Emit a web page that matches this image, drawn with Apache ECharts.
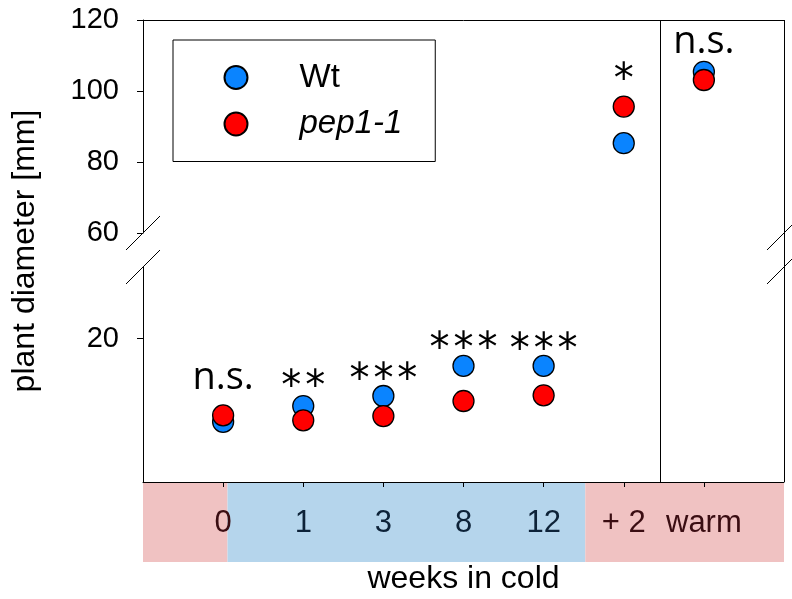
<!DOCTYPE html>
<html><head><meta charset="utf-8">
<script src="https://cdn.jsdelivr.net/npm/echarts@6/dist/echarts.min.js"></script>
<style>html,body{margin:0;padding:0;background:#fff}#c{width:792px;height:599px}</style>
</head><body><div id="c"></div>
<script>
// ---- data ----
const categories = ['0', '1', '3', '8', '12', '+ 2', 'warm'];
const labelGroup = ['warm', 'cold', 'cold', 'cold', 'cold', 'warm', 'warm'];
const wt  = [8.4, 10.6, 12.0, 16.2, 16.2, 85.3, 105.4];
const pep = [9.3, 8.6, 9.2, 11.3, 12.1, 95.6, 103.1];
const sigLabels = ['n.s.', '**', '***', '***', '***', '*', 'n.s.'];
const sigY = [14.5, 13.0, 14.0, 18.3, 18.2, 102.7, 113.8];
const upperTicks = [60, 80, 100, 120];
const lowerTicks = [20];
const bandEdges = [0, 1.055, 5.52, 8];
const bandKinds = ['warm', 'cold', 'warm'];
const dividerX = 6.45;
const lowerCount = 5; // first five categories use the lower (0-30) segment

// ---- layout ----
const L = 143, W = 641, T = 20, UH = 213, LT = 267, LH = 215, BH = 80;
const FONT = "'Liberation Sans', Arial, sans-serif";
const BLUE = '#0a84ff', RED = '#ff0000';
const bandColor = { warm: '#f0c2c2', cold: '#b5d5ec' };
const textColor = { warm: '#3a0d12', cold: '#0d2238' };

const xs = categories.map((c, i) => i + 1);
const pick = (arr, lower) => arr.map((v, i) => [xs[i], v]).filter((d, i) => lower ? i < lowerCount : i >= lowerCount);
const sigData = (lower) => sigY.map((v, i) => ({ value: [xs[i], v], name: sigLabels[i] })).filter((d, i) => lower ? i < lowerCount : i >= lowerCount);

const hiddenX = (g) => ({ gridIndex: g, type: 'value', min: 0, max: 8, show: false });
const hiddenY = (g) => ({ gridIndex: g, type: 'value', min: 0, max: 1, show: false });

const pointStyle = (c) => ({ color: c, borderColor: '#000', borderWidth: 1.3, opacity: 1 });
const sigLabel = {
  show: true, position: 'inside',
  formatter: (p) => p.name.indexOf('*') >= 0
    ? '{a|' + p.name.split('').join('\u200A') + '}'
    : '{n|' + p.name + '}',
  rich: {
    n: { fontFamily: "'Open Sans', sans-serif", fontSize: 38, color: '#000' },
    a: { fontFamily: "'DejaVu Sans', sans-serif", fontSize: 40, color: '#000' }
  }
};

const option = {
  animation: false,
  backgroundColor: '#fff',
  grid: [
    { left: L, top: T, width: W, height: LT + LH - T, outerBoundsMode: 'none' }, // frame
    { left: L, top: T, width: W, height: UH, outerBoundsMode: 'none' },          // upper
    { left: L, top: LT, width: W, height: LH, outerBoundsMode: 'none' },         // lower
    { left: L, top: LT + LH, width: W, height: BH, outerBoundsMode: 'none' }     // band
  ],
  xAxis: [
    hiddenX(0),
    { gridIndex: 1, type: 'value', min: 0, max: 8, position: 'top',
      axisLine: { show: true, lineStyle: { color: '#000', width: 1 } },
      axisTick: { show: false }, axisLabel: { show: false }, splitLine: { show: false } },
    { gridIndex: 2, type: 'value', min: 0, max: 8, position: 'bottom', z: 10,
      name: 'weeks in cold', nameLocation: 'middle', nameGap: 81,
      nameTextStyle: { fontFamily: FONT, fontSize: 32, color: '#000' },
      axisLine: { show: true, lineStyle: { color: '#000', width: 1 } },
      axisTick: { show: true, inside: false, length: 5, customValues: xs, lineStyle: { color: '#000' } },
      axisLabel: {
        show: true, customValues: xs, margin: 26,
        formatter: (v) => { const i = Math.round(v) - 1; return '{' + labelGroup[i] + '|' + categories[i] + '}'; },
        rich: {
          warm: { fontFamily: FONT, fontSize: 31, color: textColor.warm },
          cold: { fontFamily: FONT, fontSize: 31, color: textColor.cold }
        }
      },
      splitLine: { show: false } },
    hiddenX(3)
  ],
  yAxis: [
    { gridIndex: 0, type: 'value', min: 0, max: 1,
      name: 'plant diameter [mm]', nameLocation: 'middle', nameGap: 102, nameRotate: 90,
      nameTextStyle: { fontFamily: FONT, fontSize: 32, color: '#000' },
      axisLine: { show: false }, axisTick: { show: false }, axisLabel: { show: false }, splitLine: { show: false } },
    { gridIndex: 1, type: 'value', min: 60, max: 120, interval: 20,
      axisLine: { show: true, lineStyle: { color: '#000', width: 1 } },
      axisTick: { show: true, length: 6, customValues: upperTicks, lineStyle: { color: '#000' } },
      axisLabel: { customValues: upperTicks, margin: 24, fontFamily: FONT, fontSize: 29, color: '#000' },
      splitLine: { show: false } },
    { gridIndex: 2, type: 'value', min: 0, max: 30,
      axisLine: { show: true, lineStyle: { color: '#000', width: 1 } },
      axisTick: { show: true, length: 6, customValues: lowerTicks, lineStyle: { color: '#000' } },
      axisLabel: { customValues: lowerTicks, margin: 24, fontFamily: FONT, fontSize: 29, color: '#000' },
      splitLine: { show: false } },
    hiddenY(3)
  ],
  legend: {
    data: ['Wt', 'pep1-1'], orient: 'vertical', left: 173, top: 40,
    selectedMode: false, icon: 'circle', itemWidth: 23, itemHeight: 23, itemGap: 13.5,
    padding: [21, 33, 21, 50.5], borderColor: '#000', borderWidth: 1,
    formatter: (n) => n === 'pep1-1' ? '{i|' + n + '}' : '{n|' + n + '}',
    textStyle: {
      fontFamily: FONT, fontSize: 32, color: '#000', padding: [0, 0, 0, 47],
      rich: {
        n: { fontFamily: FONT, fontSize: 33, lineHeight: 34, color: '#000' },
        i: { fontFamily: FONT, fontSize: 33, lineHeight: 34, color: '#000', fontStyle: 'italic' }
      }
    }
  },
  series: [
    { type: 'scatter', xAxisIndex: 0, yAxisIndex: 0, data: [[0, 0]], symbolSize: 0, silent: true,
      markLine: { silent: true, symbol: ['none', 'none'], label: { show: false },
        lineStyle: { color: '#000', width: 1, type: 'solid' },
        data: [{ xAxis: 8 }, { xAxis: dividerX }] } },
    { type: 'scatter', xAxisIndex: 3, yAxisIndex: 3, data: [[0, 0]], symbolSize: 0, silent: true, z: -10,
      markArea: { silent: true,
        data: bandKinds.map((k, i) => [{ xAxis: bandEdges[i], itemStyle: { color: bandColor[k], opacity: 1 } }, { xAxis: bandEdges[i + 1] }]) } },
    { name: 'Wt', type: 'scatter', xAxisIndex: 2, yAxisIndex: 2, data: pick(wt, true), symbolSize: 21, itemStyle: pointStyle(BLUE), z: 3 },
    { name: 'Wt', type: 'scatter', xAxisIndex: 1, yAxisIndex: 1, data: pick(wt, false), symbolSize: 21, itemStyle: pointStyle(BLUE), z: 3 },
    { name: 'pep1-1', type: 'scatter', xAxisIndex: 2, yAxisIndex: 2, data: pick(pep, true), symbolSize: 21, itemStyle: pointStyle(RED), z: 4 },
    { name: 'pep1-1', type: 'scatter', xAxisIndex: 1, yAxisIndex: 1, data: pick(pep, false), symbolSize: 21, itemStyle: pointStyle(RED), z: 4 },
    { type: 'scatter', xAxisIndex: 2, yAxisIndex: 2, data: sigData(true), symbolSize: 0, silent: true, itemStyle: { opacity: 1 }, label: sigLabel, z: 5 },
    { type: 'scatter', xAxisIndex: 1, yAxisIndex: 1, data: sigData(false), symbolSize: 0, silent: true, itemStyle: { opacity: 1 }, label: sigLabel, z: 5 }
  ]
};

// axis-break slashes on both frame edges
const breakY = [T + UH, LT];
const breakMarks = [];
[L, L + W].forEach((x) => breakY.forEach((y) => {
  breakMarks.push({ type: 'line', z: 100, silent: true,
    shape: { x1: x - 17, y1: y + 17, x2: x + 17, y2: y - 17 },
    style: { stroke: '#000', lineWidth: 1 } });
}));
option.graphic = breakMarks;

const chart = echarts.init(document.getElementById('c'), null, { renderer: 'canvas' });
chart.setOption(option);
</script></body></html>
